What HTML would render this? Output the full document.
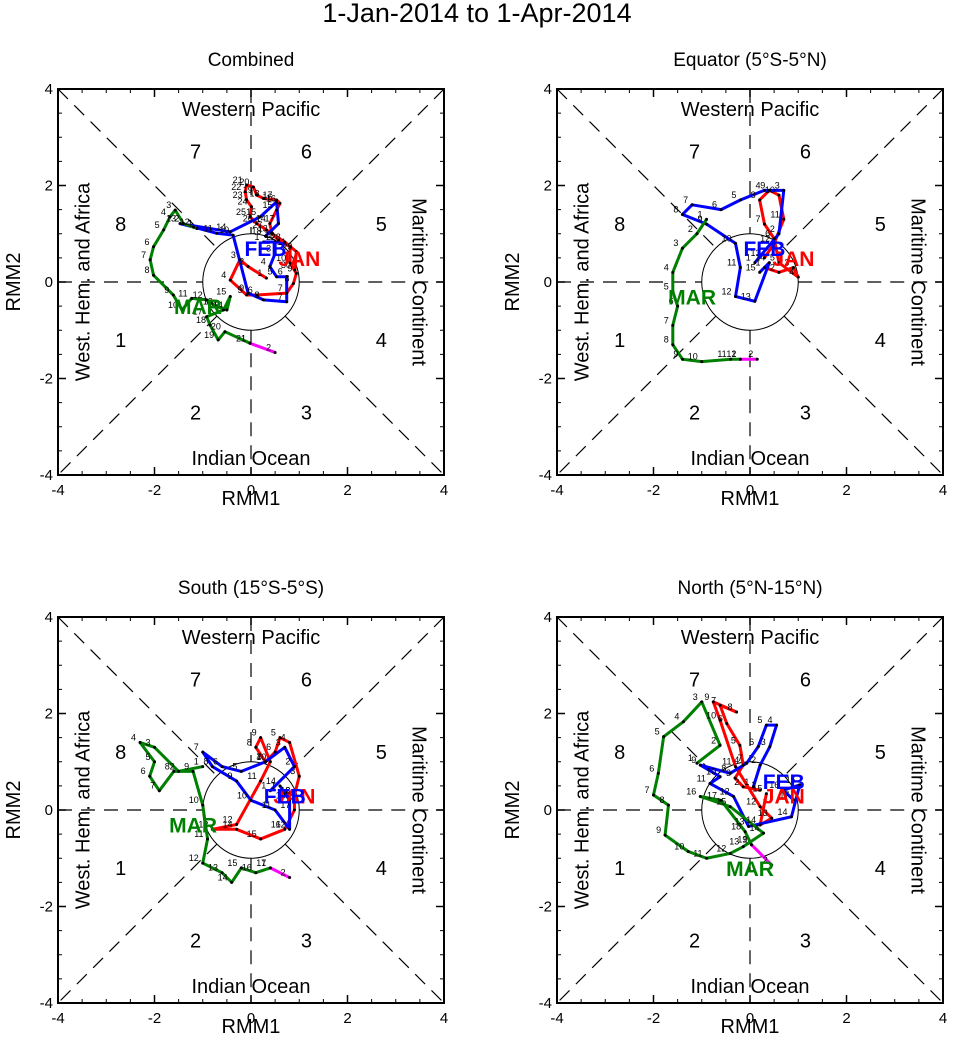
<!DOCTYPE html>
<html><head><meta charset="utf-8"><style>
body{margin:0;background:#fff;}
svg{display:block;font-family:"Liberation Sans",Arial,sans-serif;}
</style></head><body>
<svg id="c" width="954" height="1060" viewBox="0 0 954 1060">
<text x="477" y="22" text-anchor="middle" font-size="27">1-Jan-2014 to 1-Apr-2014</text>
</svg>
<script>
const panelTitles=["Combined","Equator (5°S-5°N)","South (15°S-5°S)","North (5°N-15°N)"];
const tickValues=[-4,-2,0,2,4];
const phaseLabels=["1","2","3","4","5","6","7","8"];
// Combined
const p1JanX=[0.32,-0.06,-0.23,-0.43,-0.09,0.12,0.74,0.88,0.94,0.81,0.81,0.57,0.43,0.39,0.53,0.60,0.53,0.26,0.12,0.05,-0.09,-0.12,-0.09,0.01,-0.02,0.12,0.32,0.70,0.94,0.91];
const p1JanY=[0.08,0.32,0.46,0.04,-0.27,-0.27,-0.23,-0.03,0.18,0.39,0.73,0.87,1.01,1.21,1.49,1.63,1.70,1.73,1.80,1.97,2.01,1.87,1.70,1.56,1.35,1.21,1.08,0.83,0.63,0.25];
const p1FebX=[0.26,0.50,0.50,0.39,0.53,0.74,0.74,0.26,-0.06,-0.37,-0.71,-1.19,-1.47,-0.43,0.19,0.53,0.57,0.30];
const p1FebY=[0.83,0.83,0.59,0.32,0.11,0.11,-0.41,-0.37,-0.23,0.97,1.01,1.14,1.21,1.04,1.35,1.66,1.21,0.95];
const p1MarX=[-1.12,-1.40,-1.57,-1.68,-1.81,-2.02,-2.09,-2.02,-1.61,-1.43,-1.23,-0.92,-0.71,-0.50,-0.43,-0.57,-0.92,-0.85,-0.68,-0.54,-0.02];
const p1MarY=[1.11,1.21,1.49,1.35,1.08,0.73,0.46,0.14,-0.27,-0.58,-0.34,-0.37,-0.51,-0.58,-0.30,-0.58,-0.72,-0.89,-1.20,-1.03,-1.27];
const p1AprX=[-0.02,0.50], p1AprY=[-1.27,-1.46];
// Equator
const p2JanX=[0.3,0.6,0.9,1.0,0.6,0.5,0.3,0.2,0.4,0.6,0.7,0.5,0.3];
const p2JanY=[0.3,0.2,0.3,0.1,0.4,0.9,1.2,1.7,1.9,1.8,1.3,0.8,0.5];
const p2FebX=[0.1,0.6,0.7,0.3,-0.2,-0.6,-1.2,-1.4,-0.9,-0.3,-0.2,-0.3,0.1,0.4,0.2];
const p2FebY=[0.4,1.0,1.9,1.9,1.7,1.5,1.6,1.4,1.2,0.8,0.3,-0.3,-0.4,0.4,0.2];
const p2MarX=[-0.9,-1.1,-1.4,-1.6,-1.6,-1.5,-1.6,-1.6,-1.4,-1.0,-0.4,-0.2];
const p2MarY=[1.3,1.0,0.7,0.2,-0.2,-0.5,-0.9,-1.3,-1.6,-1.65,-1.6,-1.6];
const p2AprX=[-0.2,0.15], p2AprY=[-1.6,-1.6];
// South
const p3JanX=[0.6,0.9,1.0,0.8,0.6,0.5,0.3,0.1,0.2,0.4,0.2,-0.3,-0.8,-0.3,0.2,0.7,0.9,0.9];
const p3JanY=[0.4,0.3,0.7,1.4,1.5,1.2,1.0,1.3,1.5,1.0,0.6,-0.3,-0.4,-0.4,-0.6,-0.4,0.0,0.3];
const p3FebX=[0.4,0.9,0.7,0.3,-0.2,-0.6,-1.0,-0.8,-0.3,0.0,0.5,0.8,0.8,0.6];
const p3FebY=[0.4,0.9,1.3,1.0,0.8,0.9,1.2,0.9,0.6,0.2,0.0,-0.4,0.2,0.5];
const p3MarX=[-1.0,-1.5,-2.0,-2.3,-2.0,-2.1,-1.9,-1.6,-1.2,-1.0,-0.9,-1.0,-0.6,-0.4,-0.2,0.1,0.4];
const p3MarY=[0.9,0.8,1.3,1.4,1.0,0.7,0.4,0.8,0.8,0.1,-0.6,-1.1,-1.3,-1.5,-1.2,-1.3,-1.2];
const p3AprX=[0.4,0.8], p3AprY=[-1.2,-1.4];
// North
const p4JanX=[0.21,-0.14,-0.31,-0.14,-0.21,-0.48,-0.62,-0.28,-0.76,-0.62,-0.30,0.21,0.45,0.21,0.34];
const p4JanY=[0.41,0.48,0.66,0.93,1.34,1.79,2.17,2.03,2.24,1.86,0.90,0.07,-0.17,-0.31,0.34];
const p4FebX=[0.07,0.21,0.41,0.55,0.34,0.17,-0.07,-0.41,-1.03,-0.62,-0.83,-0.34,-0.03,0.86,1.03,0.69,0.90];
const p4FebY=[0.48,0.93,1.31,1.76,1.76,1.31,0.97,0.76,0.93,0.69,0.55,0.28,-0.34,-0.14,0.52,0.41,0.21];
const p4MarX=[-1.10,-0.62,-1.0,-1.38,-1.79,-1.90,-2.0,-1.69,-1.76,-1.28,-0.90,-0.41,-0.14,0.28,-0.41,-1.03,-0.60,-0.10,0.03];
const p4MarY=[0.97,1.34,2.24,1.83,1.52,0.76,0.31,0.10,-0.52,-0.86,-1.0,-0.90,-0.76,-0.48,0.07,0.28,0.20,-0.45,-0.72];
const p4AprX=[0.03,0.45], p4AprY=[-0.72,-1.14];

const series=[
 [[p1JanX,p1JanY],[p1FebX,p1FebY],[p1MarX,p1MarY],[p1AprX,p1AprY]],
 [[p2JanX,p2JanY],[p2FebX,p2FebY],[p2MarX,p2MarY],[p2AprX,p2AprY]],
 [[p3JanX,p3JanY],[p3FebX,p3FebY],[p3MarX,p3MarY],[p3AprX,p3AprY]],
 [[p4JanX,p4JanY],[p4FebX,p4FebY],[p4MarX,p4MarY],[p4AprX,p4AprY]]];
const monthNames=["JAN","FEB","MAR"];
const colors=["#ff0000","#0000ff","#008000","#ff00ff"];
const monthLabelPos=[[[1.0,0.5],[0.3,0.7],[-1.1,-0.5]],[[0.9,0.5],[0.3,0.7],[-1.2,-0.3]],[[0.9,0.3],[0.7,0.3],[-1.2,-0.3]],[[0.7,0.3],[0.7,0.6],[0.0,-1.2]]];

const NS="http://www.w3.org/2000/svg";
const svg=document.getElementById('c');
function mk(t,a,p){const e=document.createElementNS(NS,t);for(const k in a)e.setAttribute(k,a[k]);(p||svg).appendChild(e);return e;}
const offs=[[0,0],[499,0],[0,528],[499,528]];
const L=58,T=89,S=386;
offs.forEach((o,pi)=>{
 const g=mk('g',{transform:`translate(${o[0]},${o[1]})`});
 
 
 const sx=v=>L+(v+4)/8*S, sy=v=>T+(4-v)/8*S;
 const t=mk('text',{x:251,y:66,'text-anchor':'middle','font-size':19},g);t.textContent=panelTitles[pi];
 
 const dash={stroke:'#000','stroke-width':1.2,'stroke-dasharray':'14,9',fill:'none'};
 [[sx(-4),sy(0),sx(-1),sy(0)],[sx(1),sy(0),sx(4),sy(0)],[sx(0),sy(4),sx(0),sy(1)],[sx(0),sy(-1),sx(0),sy(-4)],
  [sx(-4),sy(4),sx(-0.707),sy(0.707)],[sx(0.707),sy(-0.707),sx(4),sy(-4)],[sx(4),sy(4),sx(0.707),sy(0.707)],[sx(-0.707),sy(-0.707),sx(-4),sy(-4)]]
  .forEach(l=>{const e=mk('line',Object.assign({x1:l[0],y1:l[1],x2:l[2],y2:l[3]},dash),g);});
 const c=mk('circle',{cx:sx(0),cy:sy(0),r:S/8,fill:'none',stroke:'#000','stroke-width':1},g);
 
 const fr=mk('rect',{x:L,y:T,width:S,height:S,fill:'none',stroke:'#000','stroke-width':2},g);
 
 tickValues.forEach(v=>{
  mk('line',{x1:sx(v),y1:T+S,x2:sx(v),y2:T+S-8,stroke:'#000','stroke-width':1.5},g);
  mk('line',{x1:sx(v),y1:T,x2:sx(v),y2:T+8,stroke:'#000','stroke-width':1.5},g);
  mk('line',{x1:L,y1:sy(v),x2:L+8,y2:sy(v),stroke:'#000','stroke-width':1.5},g);
  mk('line',{x1:L+S,y1:sy(v),x2:L+S-8,y2:sy(v),stroke:'#000','stroke-width':1.5},g);
  const a=mk('text',{x:sx(v),y:T+S+20,'text-anchor':'middle','font-size':15},g);a.textContent=v;
  
  const b=mk('text',{x:L-5,y:sy(v)+5,'text-anchor':'end','font-size':15},g);b.textContent=v;
  
 });
 for(let v=-3.5;v<=3.5;v+=0.5){if(Number.isInteger(v/2))continue;
  mk('line',{x1:sx(v),y1:T+S,x2:sx(v),y2:T+S-4,stroke:'#000'},g);mk('line',{x1:sx(v),y1:T,x2:sx(v),y2:T+4,stroke:'#000'},g);
  mk('line',{x1:L,y1:sy(v),x2:L+4,y2:sy(v),stroke:'#000'},g);mk('line',{x1:L+S,y1:sy(v),x2:L+S-4,y2:sy(v),stroke:'#000'},g);}
 const xt=mk('text',{x:251,y:505,'text-anchor':'middle','font-size':20},g);xt.textContent='RMM1';
 
 const yt=mk('text',{x:20,y:282,'text-anchor':'middle','font-size':20,transform:'rotate(-90 20 282)'},g);yt.textContent='RMM2';
 
 [['Western Pacific',251,116,0],['Indian Ocean',251,465,0],['West. Hem. and Africa',84,282,-90],['Maritime Continent',418,282,90]].forEach(r=>{
  const e=mk('text',{x:r[1],y:r[2],'text-anchor':'middle','dominant-baseline':r[3]?'middle':'auto','font-size':20,transform:`rotate(${r[3]} ${r[1]} ${r[2]})`},g);e.textContent=r[0];
  });
 const pp=[[-2.7,-1.2],[-1.15,-2.7],[1.15,-2.7],[2.7,-1.2],[2.7,1.2],[1.15,2.7],[-1.15,2.7],[-2.7,1.2]];
 pp.forEach((p,i)=>{const e=mk('text',{x:sx(p[0]),y:sy(p[1])+7,'text-anchor':'middle','font-size':20},g);e.textContent=phaseLabels[i];
  });
 series[pi].forEach((s,si)=>{
  const pts=s[0].map((x,i)=>sx(x)+','+sy(s[1][i])).join(' ');
  const pl=mk('polyline',{points:pts,fill:'none',stroke:colors[si],'stroke-width':3,'stroke-linejoin':'round'},g);
  
  
 });
 series[pi].forEach((s,si)=>{
  s[0].forEach((x,i)=>{const d=mk('circle',{cx:sx(x),cy:sy(s[1][i]),r:1.5,fill:'#000'},g);
   
   const n=mk('text',{x:sx(x)-4,y:sy(s[1][i])-2,'text-anchor':'end','font-size':9},g);n.textContent=String(i+1);
   });
 });
 monthLabelPos[pi].forEach((p,mi)=>{const e=mk('text',{x:sx(p[0]),y:sy(p[1])+8,'text-anchor':'middle','font-size':21,'font-weight':'bold',fill:colors[mi]},g);
  e.textContent=monthNames[mi];});
});
</script>
</body></html>
